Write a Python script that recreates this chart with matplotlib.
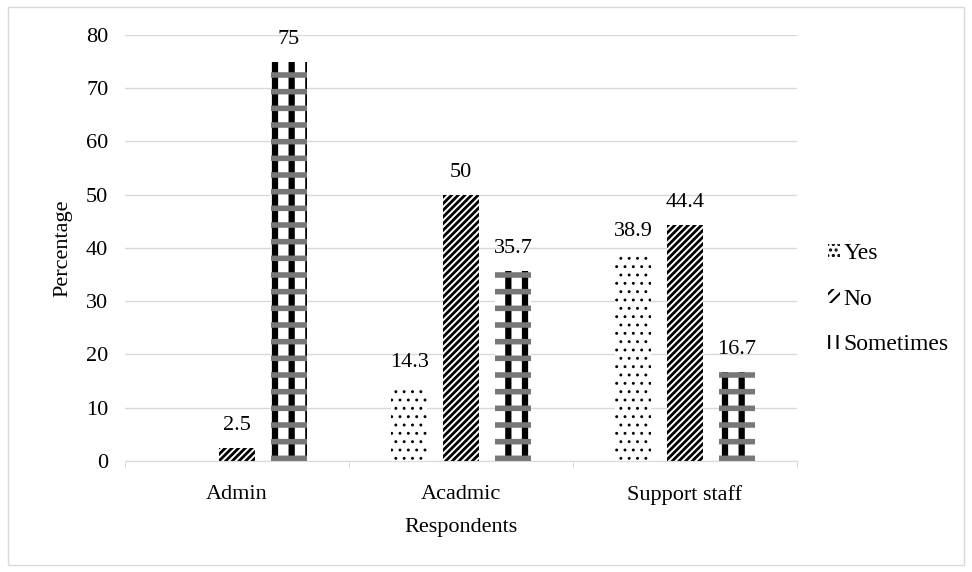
import matplotlib.pyplot as plt
from matplotlib.patches import Rectangle
import numpy as np

plt.rcParams['font.family'] = ['Liberation Serif', 'DejaVu Serif']

groups = ["Admin", "Acadmic", "Support staff"]
series = ["Yes", "No", "Sometimes"]
yes_vals = [0, 14.3, 38.9]
no_vals = [2.5, 50, 44.4]
sometimes_vals = [75, 35.7, 16.7]
value_labels = [["", "14.3", "38.9"], ["2.5", "50", "44.4"], ["75", "35.7", "16.7"]]

fig = plt.figure(figsize=(9.72, 5.72), dpi=100)
fig.patches.append(Rectangle((0.008, 0.012), 0.984, 0.976, transform=fig.transFigure,
                             fill=False, edgecolor='#d9d9d9', linewidth=1))
ax = fig.add_axes([0.1286, 0.194, 0.6914, 0.745])

x = np.arange(len(groups))
width = 0.16
offsets = [-0.232, 0, 0.232]

# dotted bars
plt.rcParams['hatch.linewidth'] = 0.9
ax.bar(x + offsets[0], yes_vals, width, color='white', edgecolor='black',
       hatch='..', linewidth=0)

# dense diagonal stripes
plt.rcParams['hatch.linewidth'] = 2.0
ax.bar(x + offsets[1], no_vals, width, color='white', edgecolor='black',
       hatch='/////', linewidth=0)

# plaid: thick vertical columns plus grey horizontal bands
plt.rcParams['hatch.linewidth'] = 4.5
ax.bar(x + offsets[2], sometimes_vals, width, color='white', edgecolor='black',
       hatch='|', linewidth=0)
plt.rcParams['hatch.linewidth'] = 4.0
ax.bar(x + offsets[2], sometimes_vals, width, color='none', edgecolor='#777777',
       hatch='-', linewidth=0)

vals = [yes_vals, no_vals, sometimes_vals]
for i in range(3):
    for j in range(3):
        if value_labels[i][j]:
            ax.text(x[j] + offsets[i], vals[i][j] + 2.4, value_labels[i][j],
                    ha='center', va='bottom', fontsize=16)

ax.set_ylim(0, 80)
ax.set_xlim(-0.5, 2.5)
ax.set_yticks(range(0, 81, 10))
ax.yaxis.grid(True, color='#d9d9d9', linewidth=1)
ax.set_axisbelow(True)
for s in ['top', 'right', 'left']:
    ax.spines[s].set_visible(False)
ax.spines['bottom'].set_color('#d9d9d9')
ax.tick_params(axis='y', length=0, labelsize=16, pad=12)
ax.set_xticks(x)
ax.set_xticklabels(groups)
ax.tick_params(axis='x', length=0, labelsize=16, pad=17)
ax.set_xticks([-0.5, 0.5, 1.5, 2.5], minor=True)
ax.tick_params(axis='x', which='minor', length=5, color='#d9d9d9')

ax.set_ylabel("Percentage", fontsize=16, labelpad=10)
ax.set_xlabel("Respondents", fontsize=16, labelpad=10)

plt.rcParams['hatch.linewidth'] = 1.5
handles = [Rectangle((0, 0), 1, 1, facecolor='white', edgecolor='black', hatch=h, linewidth=0)
           for h in ['...', '///', '||']]
ax.legend(handles, series, loc='center left', bbox_to_anchor=(1.015, 0.38), frameon=False,
          fontsize=17, handlelength=0.5, handleheight=0.5, handletextpad=0.15, labelspacing=1.05)

fig.savefig("out.png", dpi=100)
